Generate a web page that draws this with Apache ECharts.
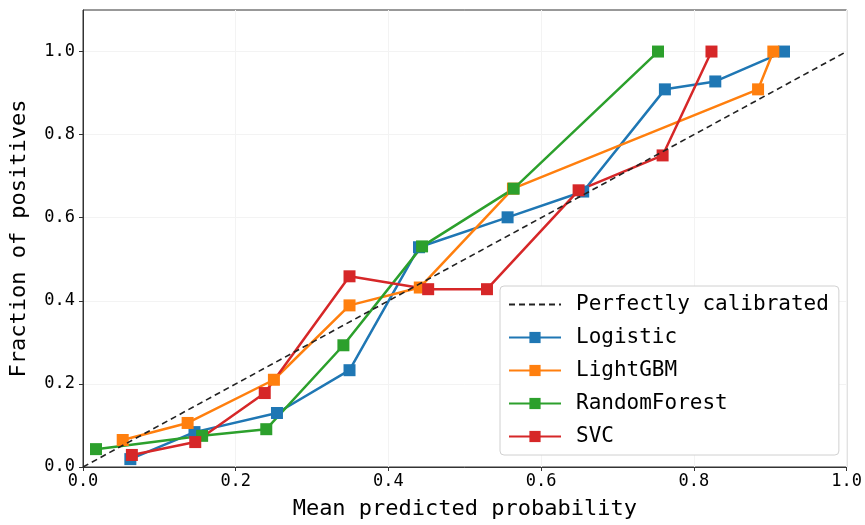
<!DOCTYPE html>
<html>
<head>
<meta charset="utf-8">
<script src="https://cdn.jsdelivr.net/npm/echarts@6/dist/echarts.min.js"></script>
<style>
  html, body { margin: 0; padding: 0; background: #fff; }
  #chart { width: 865px; height: 525px; }
</style>
</head>
<body>
<div id="chart"></div>
<script>
// calibration curves: [mean predicted probability, fraction of positives]
var perfect = [[0, 0], [1, 1]];
var logistic = [[0.062, 0.019], [0.146, 0.084], [0.254, 0.130], [0.349, 0.233], [0.440, 0.529],
                [0.556, 0.601], [0.655, 0.663], [0.762, 0.909], [0.828, 0.928], [0.918, 1.0]];
var lightgbm = [[0.052, 0.065], [0.137, 0.106], [0.250, 0.210], [0.349, 0.389], [0.441, 0.432],
                [0.563, 0.670], [0.884, 0.909], [0.904, 1.0]];
var randomForest = [[0.017, 0.043], [0.156, 0.075], [0.240, 0.091], [0.341, 0.293], [0.444, 0.531],
                    [0.564, 0.670], [0.753, 1.0]];
var svc = [[0.064, 0.029], [0.147, 0.060], [0.238, 0.178], [0.349, 0.459], [0.452, 0.428],
           [0.529, 0.428], [0.649, 0.666], [0.759, 0.750], [0.823, 1.0]];
var ticks = [0, 0.2, 0.4, 0.6, 0.8, 1.0];

var font = "'DejaVu Sans Mono', 'Liberation Mono', monospace";
var myChart = echarts.init(document.getElementById('chart'));

function curve(name, data, color) {
    return {
        name: name,
        type: 'line',
        data: data,
        symbol: 'rect',
        symbolSize: 12,
        lineStyle: { width: 2.5, color: color },
        itemStyle: { color: color },
        emphasis: { disabled: true },
        z: 3
    };
}

var option = {
    animation: false,
    textStyle: { fontFamily: font },
    grid: {
        left: 80, right: 17, top: 10, bottom: 57,
        show: true, borderColor: '#333', borderWidth: 1
    },
    legend: {
        orient: 'vertical',
        left: 500, top: 286,
        itemWidth: 52, itemHeight: 14, itemGap: 12,
        padding: [8, 10, 8, 8],
        backgroundColor: '#fff',
        borderColor: '#d0d0d0', borderWidth: 1, borderRadius: 4,
        textStyle: { fontFamily: font, fontSize: 21, color: '#000', padding: [0, 0, 0, 10] },
        data: [
            { name: 'Perfectly calibrated', itemStyle: { opacity: 0 } },
            'Logistic', 'LightGBM', 'RandomForest', 'SVC'
        ]
    },
    xAxis: {
        type: 'value', min: 0, max: 1, interval: 0.2,
        name: 'Mean predicted probability',
        nameLocation: 'middle', nameGap: 31,
        nameTextStyle: { fontFamily: font, fontSize: 22, color: '#000' },
        axisLine: { lineStyle: { color: '#333' } },
        axisTick: { show: true, length: 4, lineStyle: { color: '#333' } },
        axisLabel: { fontFamily: font, fontSize: 17, color: '#000', margin: 6,
                     formatter: function (v) { return v.toFixed(1); } },
        splitLine: { show: true, lineStyle: { color: '#f3f3f3' } }
    },
    yAxis: {
        type: 'value', min: 0, max: 1.1,
        name: 'Fraction of positives',
        nameLocation: 'middle', nameGap: 53,
        nameTextStyle: { fontFamily: font, fontSize: 22, color: '#000' },
        axisLine: { lineStyle: { color: '#333' } },
        axisTick: { show: true, length: 4, customValues: ticks, lineStyle: { color: '#333' } },
        axisLabel: { fontFamily: font, fontSize: 17, color: '#000', margin: 8, customValues: ticks,
                     formatter: function (v) { return v.toFixed(1); } },
        splitLine: { show: true, lineStyle: { color: '#f3f3f3' } }
    },
    series: [
        {
            name: 'Perfectly calibrated',
            type: 'line',
            data: perfect,
            symbol: 'none',
            lineStyle: { type: [6, 4], width: 1.6, color: '#222' },
            itemStyle: { color: '#222' },
            emphasis: { disabled: true },
            z: 4
        },
        curve('Logistic', logistic, '#1f77b4'),
        curve('LightGBM', lightgbm, '#ff7f0e'),
        curve('RandomForest', randomForest, '#2ca02c'),
        curve('SVC', svc, '#d62728')
    ]
};

myChart.setOption(option);
</script>
</body>
</html>
